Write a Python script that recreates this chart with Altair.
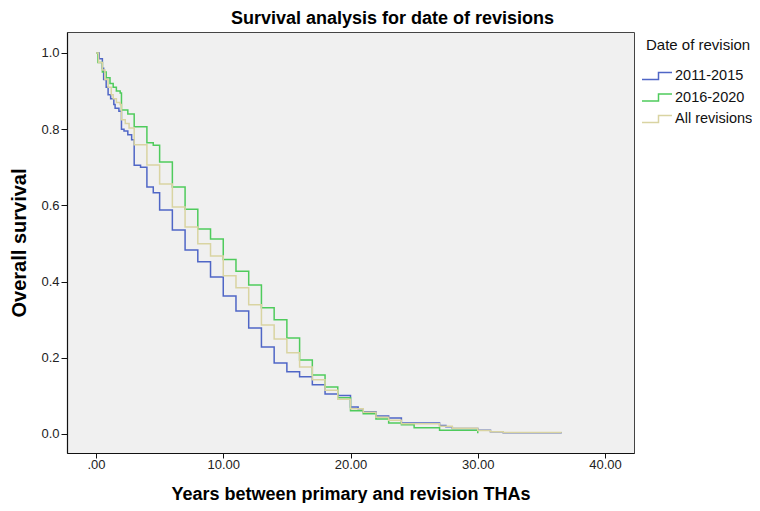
import altair as alt
import pandas as pd

series_names = ["2011-2015", "2016-2020", "All revisions"]
series_colors = ["#4f66c6", "#4fcb5c", "#d9d4a2"]

# Kaplan-Meier step points (years, survival)
t_2011 = [0, 0.25, 0.5, 0.6, 0.8, 0.95, 1.15, 1.4, 1.5, 1.8, 2, 2.2, 2.5, 2.8, 3, 3.5,
          4, 4.5, 5, 6, 7, 8, 9, 10, 11, 12, 13, 14, 15, 16, 17, 18, 19, 20, 20.6, 21,
          22, 23, 24, 27, 27.5, 28, 30, 31, 32, 36.6]
s_2011 = [1.0, 0.985, 0.96, 0.93, 0.91, 0.89, 0.88, 0.865, 0.855, 0.847, 0.80, 0.795,
          0.785, 0.772, 0.705, 0.70, 0.648, 0.633, 0.588, 0.535, 0.483, 0.452, 0.412,
          0.362, 0.323, 0.278, 0.228, 0.186, 0.163, 0.150, 0.129, 0.105, 0.101, 0.071,
          0.066, 0.058, 0.047, 0.042, 0.029, 0.022, 0.019, 0.014, 0.010, 0.006, 0.003,
          0.003]

t_2016 = [0, 0.15, 0.5, 0.8, 1.1, 1.35, 1.6, 1.9, 2, 2.5, 3, 4, 4.5, 5, 6, 7, 8, 9, 10,
          11, 12, 13, 14, 15, 16, 17, 18, 19, 20, 21, 22, 23, 24, 25, 27, 30]
s_2016 = [1.0, 0.975, 0.95, 0.935, 0.92, 0.91, 0.90, 0.895, 0.85, 0.84, 0.806, 0.764,
          0.758, 0.714, 0.648, 0.59, 0.538, 0.512, 0.458, 0.427, 0.391, 0.331, 0.30,
          0.252, 0.194, 0.155, 0.123, 0.095, 0.061, 0.053, 0.039, 0.029, 0.024, 0.016,
          0.010, 0.002]

t_all = [0, 0.2, 0.5, 0.7, 0.95, 1.2, 1.35, 1.6, 1.9, 2, 2.3, 2.6, 3, 4, 5, 6, 7, 8, 9,
         10, 11, 12, 13, 14, 15, 16, 17, 18, 19, 20, 21, 22, 23, 24, 27, 28, 30, 31, 32,
         36.6]
s_all = [1.0, 0.975, 0.955, 0.93, 0.91, 0.89, 0.88, 0.87, 0.865, 0.825, 0.815, 0.803,
         0.759, 0.706, 0.656, 0.596, 0.543, 0.499, 0.467, 0.415, 0.384, 0.339, 0.286,
         0.249, 0.213, 0.176, 0.142, 0.115, 0.091, 0.066, 0.057, 0.044, 0.036, 0.027,
         0.020, 0.015, 0.009, 0.006, 0.004, 0.004]

x_ticks = [0, 10, 20, 30, 40]
y_ticks = [0.0, 0.2, 0.4, 0.6, 0.8, 1.0]

rows = []
for name, ts, ss in zip(series_names, [t_2011, t_2016, t_all], [s_2011, s_2016, s_all]):
    for t, s in zip(ts, ss):
        rows.append({"Date of revision": name, "years": t, "survival": s})
df = pd.DataFrame(rows)

FONT = "Liberation Sans"
step_path = "M -1.5 0.35 L 0.15 0.35 L 0.15 -0.35 L 1.5 -0.35"

chart = alt.Chart(df).mark_line(interpolate="step-after", strokeWidth=1.5).encode(
    x=alt.X("years:Q",
            scale=alt.Scale(domain=[-2.28, 42.28], nice=False, zero=False),
            axis=alt.Axis(values=x_ticks, grid=False, tickSize=5,
                          labelExpr="datum.value == 0 ? '.00' : format(datum.value, '.2f')",
                          title="Years between primary and revision THAs",
                          labelPadding=0, titlePadding=14)),
    y=alt.Y("survival:Q",
            scale=alt.Scale(domain=[-0.05, 1.055], nice=False, zero=False),
            axis=alt.Axis(values=y_ticks, grid=False, format=".1f",
                          title="Overall survival", titlePadding=11,
                          titleFontSize=20)),
    color=alt.Color("Date of revision:N",
                    scale=alt.Scale(domain=series_names, range=series_colors),
                    legend=alt.Legend(orient="none", legendX=579, legendY=6,
                                      symbolType=step_path, symbolSize=400,
                                      symbolStrokeWidth=1.5, symbolFillColor="transparent",
                                      labelFont=FONT, labelFontSize=14.5, labelColor="#111",
                                      titleFont=FONT, titleFontSize=15, titleFontWeight="normal",
                                      titleColor="#111", titlePadding=12, rowPadding=3.5,
                                      labelOffset=7)),
).properties(
    width=567,
    height=421,
    background="white",
    title=alt.TitleParams("Survival analysis for date of revisions", font=FONT,
                          fontSize=18, fontWeight="bold", color="#000",
                          anchor="middle", dx=42, offset=4),
    autosize=alt.AutoSizeParams(type="none"),
    padding={"left": 59, "top": 24, "right": 118, "bottom": 50},
).configure_view(
    fill="#f0f0f0", stroke="#444", strokeWidth=1
).configure_axis(
    grid=False, domainColor="#111", domainWidth=1.2, tickColor="#111", tickSize=6,
    labelFont=FONT, labelFontSize=13, labelColor="#222",
    titleFont=FONT, titleFontSize=18, titleFontWeight="bold", titleColor="#000"
)

chart.save("out.html", embed_options={"renderer": "svg", "actions": False})
